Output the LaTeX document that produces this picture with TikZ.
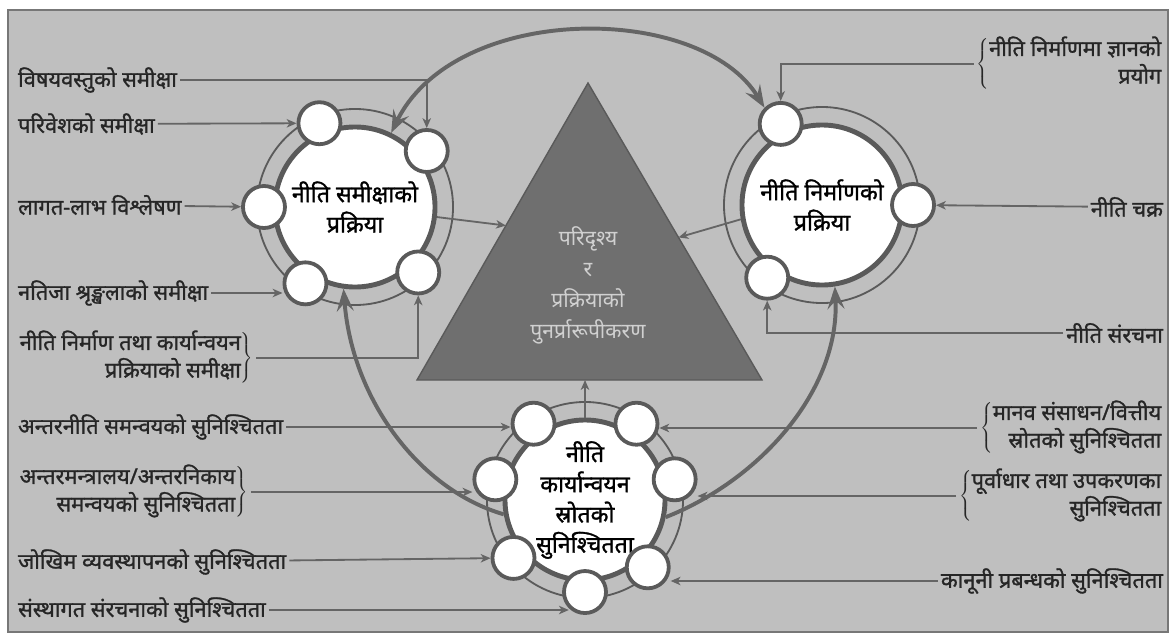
\documentclass[tikz,border=0pt]{standalone}
\usepackage{fontspec}
\newfontfamily\devfont[Script=Devanagari]{Noto Sans}
\newfontfamily\devheavy[Script=Devanagari, FakeBold=1.2]{Noto Sans}
\usepackage{tikz}
\usetikzlibrary{
	calc,
	positioning,
	arrows.meta
}
\definecolor{bggray}{HTML}{BFBFBF}
\definecolor{framegray}{HTML}{777777}
\definecolor{linegray}{HTML}{656565}
\definecolor{ringgray}{HTML}{5A5A5A}
\definecolor{trigray}{HTML}{6F6F6F}
\definecolor{tritext}{HTML}{D0D0D0}
\newcommand{\braceR}[2]{$\left.\begin{tabular}{@{}r@{}}#1\\#2\end{tabular}\right\}$}
\newcommand{\braceL}[2]{$\left\{\begin{tabular}{@{}r@{}}#1\\#2\end{tabular}\right.$}

\begin{document}
\begin{tikzpicture}[
				x=0.025cm, y=-0.025cm,
				bighead/.tip={Stealth[length=16pt, width=12pt, inset=6pt]},
				lbl/.style={font=\devheavy\fontsize{15.5}{19}\selectfont, text=black!85, inner sep=2pt},
				lblarrow/.style={draw=linegray, line width=1.3pt, -{Stealth[length=7pt, width=6pt, inset=2pt]}},
				bigarrow/.style={draw=linegray, line width=2.8pt},
				disk/.style={circle, draw=ringgray, line width=3.5pt, fill=white, minimum size=4cm, inner sep=0pt, align=center, font=\devheavy\fontsize{16.5}{21.5}\selectfont},
				dot/.style={circle, draw=ringgray, line width=2.7pt, fill=white, minimum size=1.05cm, inner sep=0pt},
				ring/.style={draw=ringgray, line width=1.3pt},
				tri/.style={draw=ringgray, line width=1pt, fill=trigray}
			]
				\useasboundingbox (0,0) rectangle (1176,639);
				% background
				\fill[white] (0,0) rectangle (1176,639);
				\draw[draw=framegray, fill=bggray, line width=1.6pt] (8,10) rectangle (1168,632);
				% triangle
				\coordinate (apex)  at (588,83);
				\coordinate (baseL) at (417,380);
				\coordinate (baseR) at (762,380);
				\draw[tri] (apex) -- (baseL) -- (baseR) -- cycle;
				\node[font=\devfont\fontsize{15}{22}\selectfont, text=tritext, align=center] (scenario) at (588,285) {परिदृश्य\\र\\प्रक्रियाको\\पुनर्प्रारूपीकरण};
				% big circles
				\node[disk] (review)    at (355,207) {नीति समीक्षाको\\प्रक्रिया};
				\node[disk] (making)    at (822,205) {नीति निर्माणको\\प्रक्रिया};
				\node[disk] (implement) at (585,500) {नीति\\कार्यान्वयन\\स्रोतको\\सुनिश्चितता};
				\foreach \c in {review,making,implement}
					\draw[ring] (\c) circle[radius=2.45cm];
				% small circles
				\foreach \a [count=\n] in {113,38,180,237,314}
					\node[dot] (review\n) at ($(review)+(\a:2.275cm)$) {};
				\foreach \a [count=\n] in {117,0,233}
					\node[dot] (making\n) at ($(making)+(\a:2.275cm)$) {};
				\foreach \a [count=\n] in {124,56,167,13,219,313,270}
					\node[dot] (implement\n) at ($(implement)+(\a:2.3cm)$) {};
				% big arrows
				\draw[bigarrow, bighead-bighead] (review.64) .. controls (455,2) and (700,2) .. (making1.135);
				\draw[bigarrow, -bighead] (implement.190) .. controls (420,490) and (352,400) .. (review.262);
				\draw[bigarrow, -bighead] (implement.348) .. controls (760,480) and (840,390) .. (making.279);
				% into the triangle
				\draw[lblarrow] (review.-7) -- ($(apex)!0.48!(baseL)$);
				\draw[lblarrow] (making.190) -- ($(apex)!0.52!(baseR)$);
				\draw[lblarrow] (implement.north) -- (implement.north |- baseL);
				% left labels
				\node[lbl, anchor=west] (subject)   at (15,80)  {विषयवस्तुको समीक्षा};
				\node[lbl, anchor=west] (environ)   at (15,124) {परिवेशको समीक्षा};
				\node[lbl, anchor=west] (costben)   at (15,205) {लागत-लाभ विश्लेषण};
				\node[lbl, anchor=west] (results)   at (15,293) {नतिजा श्रृङ्खलाको समीक्षा};
				\node[lbl, anchor=west] (procrev)   at (15,358) {\braceR{नीति निर्माण तथा कार्यान्वयन}{प्रक्रियाको समीक्षा}};
				\node[lbl, anchor=west] (interpol)  at (15,427) {अन्तरनीति समन्वयको सुनिश्चितता};
				\node[lbl, anchor=west] (interorg)  at (15,492) {\braceR{अन्तरमन्त्रालय/अन्तरनिकाय}{समन्वयको सुनिश्चितता}};
				\node[lbl, anchor=west] (risk)      at (15,562) {जोखिम व्यवस्थापनको सुनिश्चितता};
				\node[lbl, anchor=west] (instit)    at (15,610) {संस्थागत संरचनाको सुनिश्चितता};
				% right labels
				\node[lbl, anchor=east] (knowledge) at (1166,64)  {\braceL{नीति निर्माणमा ज्ञानको}{प्रयोग}};
				\node[lbl, anchor=east] (cycle)     at (1166,207) {नीति चक्र};
				\node[lbl, anchor=east] (structure) at (1166,333) {नीति संरचना};
				\node[lbl, anchor=east] (resources) at (1166,428) {\braceL{मानव संसाधन/वित्तीय}{स्रोतको सुनिश्चितता}};
				\node[lbl, anchor=east] (infra)     at (1166,496) {\braceL{पूर्वाधार तथा उपकरणका}{सुनिश्चितता}};
				\node[lbl, anchor=east] (legal)     at (1166,581) {कानूनी प्रबन्धको सुनिश्चितता};
				% label arrows
				\draw[lblarrow] (subject.east) -| (review2);
				\draw[lblarrow] (environ) -- (review1);
				\draw[lblarrow] (costben) -- (review3);
				\draw[lblarrow] (results.east) -- (results.east -| review4.west);
				\draw[lblarrow] (procrev.east) -| (review5);
				\draw[lblarrow] (interpol.east) -- (interpol.east -| implement1.west);
				\draw[lblarrow] (interorg.east) -- (interorg.east -| implement3.west);
				\draw[lblarrow] (risk) -- (implement5);
				\draw[lblarrow] (instit.east) -- (instit.east -| implement7.south west);
				\draw[lblarrow] (knowledge.west) -| (making1);
				\draw[lblarrow] (cycle) -- (making2);
				\draw[lblarrow] (structure.west) -| (making3);
				\draw[lblarrow] (resources.west) -- (resources.west -| implement2.east);
				\draw[lblarrow] (infra.west) -- (infra.west -| implement4.east);
				\draw[lblarrow] (legal.west) -- (legal.west -| implement6.east);
			\end{tikzpicture}
\end{document}
